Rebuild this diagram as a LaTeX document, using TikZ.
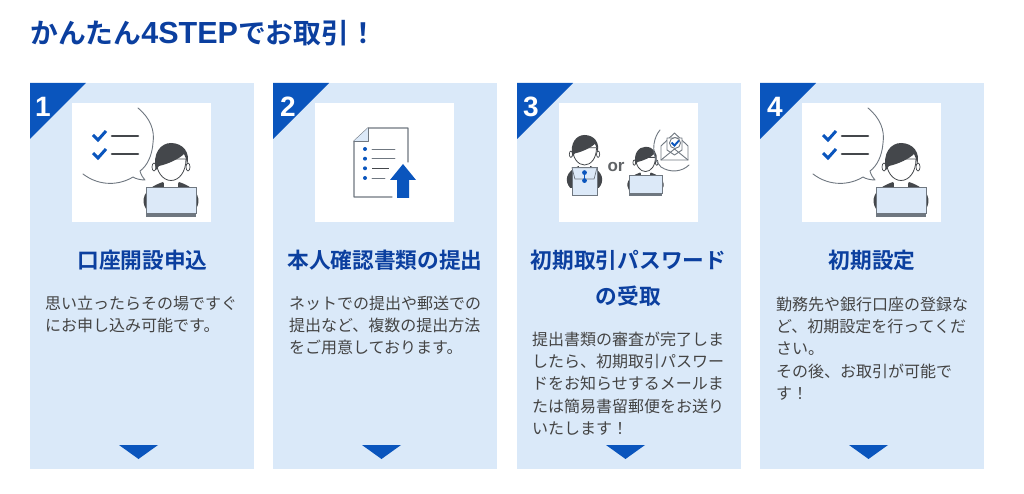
\documentclass[tikz,border=0pt]{standalone}
\usepackage{fontspec}
\setmainfont{Noto Sans CJK JP}
\newfontfamily\jpbold{Noto Sans CJK JP Bold}
\newfontfamily\lat{Liberation Sans Bold}
\definecolor{cardbg}{HTML}{DAE9F9}
\definecolor{blueA}{HTML}{0A55BD}
\definecolor{titleblue}{HTML}{0B3F9F}
\definecolor{bodygray}{HTML}{444444}
\definecolor{dark}{HTML}{44474B}
\definecolor{linegray}{HTML}{6F7780}
\definecolor{lapblue}{HTML}{DCE9F8}
\tikzset{
 x=1pt,y=-1pt,
 card/.style={fill=cardbg,draw=none},
 corner/.style={fill=blueA,draw=none},
 numlabel/.style={text=white,font=\lat\fontsize{28}{28}\selectfont,inner sep=0pt},
 imgbox/.style={fill=white,draw=none},
 steptitle/.style={text=titleblue,font=\jpbold\fontsize{21.7}{36}\selectfont,align=center,inner sep=0pt},
 stepbody/.style={text=bodygray,font=\fontsize{16}{22.3}\selectfont,align=left,anchor=north west,inner sep=0pt},
 nextarrow/.style={fill=blueA,draw=none},
 thinline/.style={draw=linegray,line width=.9pt,line cap=round,line join=round},
 listbar/.style={draw=dark,line width=2.6pt,line cap=round},
 tick/.style={draw=blueA,line width=3pt,line join=miter},
 head/.pic={
  \draw[dark,fill=white,line width=.7pt] (-17,4) ellipse (2 and 4);
  \draw[dark,fill=white,line width=.7pt] (17,4) ellipse (2 and 4);
  \fill[white] (-7,14) rectangle (7,25);
  \draw[dark,fill=white,line width=.8pt] (-15,-4) .. controls (-15,9) and (-8,17.5) .. (0,17.5) .. controls (8,17.5) and (15,9) .. (15,-4) -- cycle;
  \fill[dark] (-15,7) .. controls (-19,-10) and (-10,-20) .. (0,-20) .. controls (12,-20) and (20,-10) .. (16,2) .. controls (15.5,-3) and (15,-6) .. (13,-9) .. controls (8,-4) and (-3,1) .. (-12,3) .. controls (-13,4) and (-14,6) .. (-15,7) -- cycle;
 },
 person/.pic={
  \fill[dark] (-25,46) .. controls (-30,38) and (-29,26) .. (-8,19) -- (-5,24) -- (0,27) -- (5,24) -- (8,19) .. controls (29,26) and (30,38) .. (25,46) -- cycle;
  \pic {head};
 },
 laptop/.pic={
  \draw[linegray,fill=lapblue,line width=.7pt] (-25,24) rectangle (25,50);
  \fill[linegray] (-25,50) rectangle (25,54.5);
 },
}
\begin{document}
\begin{tikzpicture}
\useasboundingbox (0,0) rectangle (1024,494);
\node[anchor=west,inner sep=0pt,text=titleblue,font=\jpbold\fontsize{27.8}{28}\selectfont] (heading) at (30,33) {かんたん{\lat\fontsize{30.5}{28}\selectfont 4STEP}でお取引！};
\foreach \n/\xx in {a/30,b/273,c/517,d/760}{
 \fill[card] (\xx,83) rectangle ++(224,386);
 \fill[imgbox] (\xx+42,103) rectangle ++(139,119);
 \fill[corner] (\xx,83) -- ++(56,0) -- ++(-56,56) -- cycle;
 \fill[nextarrow] (\xx+89,445) -- ++(39,0) -- ++(-19.5,14) -- cycle;
}
\node[numlabel] (n1) at (43,107) {1};
\node[numlabel] (n2) at (288,107) {2};
\node[numlabel] (n3) at (531,107) {3};
\node[numlabel] (n4) at (775,107) {4};
\node[steptitle] (t1) at (142.5,260) {口座開設申込};
\node[steptitle] (t2) at (385,260) {本人確認書類の提出};
\node[steptitle] (t3) at (628.5,278) {初期取引パスワード\\の受取};
\node[steptitle] (t4) at (872,260) {初期設定};
\node[stepbody] (b1) at (45,295.5) {思い立ったらその場ですぐ\\にお申し込み可能です。};
\node[stepbody] (b2) at (289,295.5) {ネットでの提出や郵送での\\提出など、複数の提出方法\\をご用意しております。};
\node[stepbody] (b3) at (532,331.5) {提出書類の審査が完了しま\\したら、初期取引パスワー\\ドをお知らせするメールま\\たは簡易書留郵便をお送り\\いたします！};
\node[stepbody] (b4) at (776,296.5) {勤務先や銀行口座の登録な\\ど、初期設定を行ってくだ\\さい。\\その後、お取引が可能で\\す！};
\foreach \dx in {0,730}{
\begin{scope}[shift={(\dx,0)}]
 \draw[thinline] (138,108) .. controls (150,118) and (155,130) .. (153,143) .. controls (152,156) and (147,166) .. (140,171) .. controls (141,175) and (143,178) .. (145,180) .. controls (141,180) and (136,179) .. (133,177) .. controls (120,185) and (100,187) .. (83,174);
 \draw[tick] (93,135) -- (98,140) -- (106,131);
 \draw[tick] (93,153) -- (98,158) -- (106,149);
 \draw[listbar] (112,136) -- (138,136);
 \draw[listbar] (112,154) -- (138,154);
 \pic[transform shape] at (171,163) {person};
 \pic[transform shape] at (171,163) {laptop};
\end{scope}}
\draw[thinline,line width=1.1pt] (408,162) -- (408,128) -- (368,128) -- (354,141) -- (354,197) -- (392,197);
\fill[lapblue] (368,128) -- (368,141) -- (354,141) -- cycle;
\draw[thinline] (368,128) -- (368,141) -- (354,141);
\foreach \yy in {149,158.7,168.3,178}{
 \fill[blueA] (365,\yy) circle (2);
}
\draw[thinline] (372,149) -- (395,149);
\draw[thinline] (372,158.7) -- (395,158.7);
\draw[dark,line width=.9pt] (372,168.3) -- (389,168.3);
\draw[thinline] (372,178) -- (385,178);
\fill[blueA] (403,164) -- (416,180) -- (409,180) -- (409,198) -- (397,198) -- (397,180) -- (390,180) -- cycle;
\begin{scope}[shift={(584.5,151)},scale=.8]
 \fill[dark] (-18,46) .. controls (-25,38) and (-24,26) .. (-8,19) -- (8,19) .. controls (24,26) and (25,38) .. (18,46) -- cycle;
 \pic[transform shape] at (0,0) {head};
 \draw[linegray,fill=lapblue,line width=.7pt] (-15.6,21) rectangle (15.6,56);
 \draw[linegray,fill=lapblue,line width=.7pt] (-15.6,21) -- (-12,35) -- (12,35) -- (15.6,21) -- cycle;
 \draw[blueA,line width=1.6pt] (0,27) -- (0,37);
 \fill[blueA] (0,27) circle (3);
 \fill[blueA] (0,37) circle (3);
\end{scope}
\node[inner sep=0pt,text=dark!85,font=\lat\fontsize{17}{17}\selectfont] (orlabel) at (616,167) {or};
\begin{scope}[shift={(645.5,160)},scale=.66]
 \pic[transform shape] at (0,0) {person};
 \pic[transform shape] at (0,0) {laptop};
\end{scope}
\draw[thinline] (660,130) .. controls (654,137) and (651,150) .. (657,162) -- (661,167) .. controls (670,173) and (682,172) .. (689,165);
\draw[thinline,fill=white] (661,146) -- (674.5,133) -- (688,146) -- (688,160) -- (661,160) -- cycle;
\draw[thinline,fill=white] (667,150) -- (667,138) -- (682,138) -- (682,150) -- (674.5,155) -- cycle;
\draw[thinline] (661,160) -- (674.5,149) -- (688,160);
\draw[thinline,fill=white] (675,143) circle (5.5);
\draw[blueA,line width=1.9pt] (671.5,142.5) -- (674.5,145.5) -- (679,140.5);
\end{tikzpicture}
\end{document}
